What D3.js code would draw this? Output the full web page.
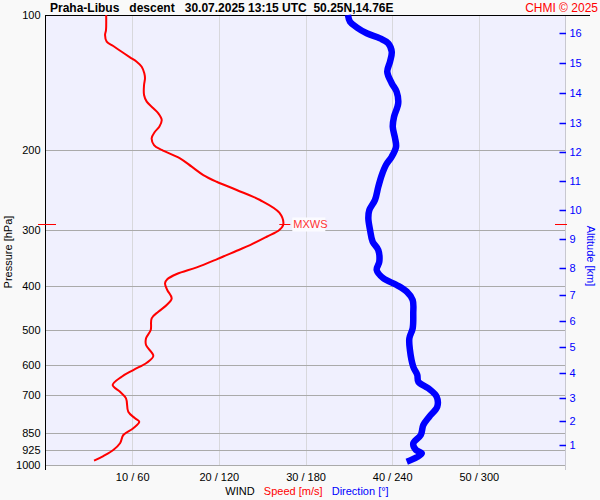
<!DOCTYPE html>
<html>
<head>
<meta charset="utf-8">
<script src="https://cdn.jsdelivr.net/npm/d3@7"></script>
<style>
  html, body { margin: 0; padding: 0; background: #f9f9f9; }
  svg { display: block; font-family: "Liberation Sans", Arial, sans-serif; }
</style>
</head>
<body>
<svg id="chart" width="600" height="500"></svg>
<script>
// ---- data ----
const titleText = "Praha-Libus   descent   30.07.2025 13:15 UTC  50.25N,14.76E";
const pressureTicks = [100, 200, 300, 400, 500, 600, 700, 850, 925, 1000];
const speedTicks = [10, 20, 30, 40, 50];
const windTickLabels = ["10 / 60", "20 / 120", "30 / 180", "40 / 240", "50 / 300"];
const altitudeKm = [1, 2, 3, 4, 5, 6, 7, 8, 9, 10, 11, 12, 13, 14, 15, 16];
const altitudePressure = [903, 798.6, 709.9, 624.5, 546.7, 478.6, 419, 365, 314.6, 271.3, 233.8, 201.6, 173.8, 149, 127.8, 109.6];

// wind speed profile [m/s] vs pressure [hPa]
const speedPressure = [100, 108.0, 110.8, 114.6, 117.2, 120.7, 124.2, 127.0, 130.3, 134.8, 138.3, 143.1, 150.6, 155.8, 161.2, 165.4, 171.1, 177.1, 181.7, 187.9, 194.5, 199.5, 208.2, 217.3, 226.8, 234.7, 244.8, 257.7, 275.0, 291.9, 300.5, 311.0, 324.5, 334.1, 349.1, 363.7, 376.3, 386.7, 394.7, 408.4, 426.2, 441.0, 456.4, 472.1, 501.2, 523.0, 541.2, 572.5, 592.5, 615.1, 636.5, 664.2, 687.4, 711.0, 761.4, 787.6, 801.4, 828.9, 857.7, 895.0, 926.1, 955.0, 978.2];
const speedValues = [7.0, 6.98, 6.87, 7.06, 7.82, 8.79, 9.75, 10.52, 11.10, 11.40, 11.48, 11.37, 11.37, 11.68, 12.44, 13.02, 13.41, 13.13, 12.63, 12.25, 12.52, 13.41, 15.52, 16.87, 18.21, 19.75, 22.06, 24.75, 26.98, 27.44, 26.98, 25.52, 23.60, 22.06, 19.75, 17.45, 15.14, 14.05, 13.79, 14.05, 14.56, 13.98, 13.02, 12.25, 12.14, 11.60, 11.60, 12.44, 11.68, 10.13, 8.79, 7.75, 8.60, 9.29, 9.55, 10.33, 10.82, 10.13, 8.98, 8.60, 7.82, 6.67, 5.60];

// wind direction profile [deg] vs pressure [hPa]
const dirPressure = [100, 103.5, 106.5, 109.8, 112.7, 115.6, 120.7, 127.0, 133.7, 141.8, 148.1, 157.1, 168.3, 177.1, 187.9, 196.2, 206.5, 215.4, 226.8, 240.8, 257.7, 271.3, 283.0, 300.5, 319.0, 332.9, 353.4, 368.7, 384.7, 398.1, 412.0, 429.9, 460.1, 496.9, 523.0, 555.2, 604.8, 631.0, 653.0, 675.5, 705.2, 742.1, 780.9, 814.7, 857.7, 895.0, 926.1, 941.9, 961.4, 983.3];
const dirValues = [209.4, 210.8, 215.4, 222.4, 231.6, 237.3, 239.7, 238.5, 236.6, 239.7, 243.1, 244.2, 241.3, 240.4, 242.0, 242.7, 239.7, 235.7, 232.8, 230.4, 228.1, 224.2, 223.5, 224.7, 226.5, 230.4, 231.1, 229.3, 233.9, 243.1, 250.1, 254.2, 254.6, 254.2, 251.9, 252.3, 254.6, 257.4, 258.1, 265.0, 270.8, 271.2, 265.7, 261.6, 259.8, 254.6, 256.5, 260.5, 257.0, 250.1];

const maxWind = { pressure: 291.9, speed: 27.44, label: "MXWS" };

// ---- layout ----
const L = 45.5, R = 565.5, T = 15, B = 465;
const svg = d3.select("#chart");

const y = d3.scaleLog().domain([100, 1000]).range([T, B]);
const xs = d3.scaleLinear().domain([0, 60]).range([L, R]);
const xd = d3.scaleLinear().domain([0, 360]).range([L, R]);

// plot background
svg.append("rect").attr("x", L).attr("y", T).attr("width", R - L).attr("height", B - T).attr("fill", "#f0f0fe");

// vertical grid
svg.append("g").selectAll("line").data(speedTicks).join("line")
  .attr("x1", d => Math.round(xs(d)) + 0.5).attr("x2", d => Math.round(xs(d)) + 0.5)
  .attr("y1", T).attr("y2", B)
  .attr("stroke", "#d8d8dc").attr("stroke-width", 1);

// horizontal grid
svg.append("g").selectAll("line").data(pressureTicks.slice(1)).join("line")
  .attr("x1", L).attr("x2", R)
  .attr("y1", d => Math.round(y(d)) + 0.5).attr("y2", d => Math.round(y(d)) + 0.5)
  .attr("stroke", "#aaaaaa").attr("stroke-width", 1);

// right axis line
svg.append("line").attr("x1", R).attr("x2", R).attr("y1", T).attr("y2", 470)
  .attr("stroke", "#c8c8d0").attr("stroke-width", 1);

// left axis line and top line
svg.append("line").attr("x1", L).attr("x2", L).attr("y1", T).attr("y2", 470)
  .attr("stroke", "#000").attr("stroke-width", 1);
svg.append("line").attr("x1", L).attr("x2", 590).attr("y1", T + 0.5).attr("y2", T + 0.5)
  .attr("stroke", "#000").attr("stroke-width", 1);

// left pressure axis labels
const yAxis = d3.axisLeft(y).tickValues(pressureTicks).tickFormat(d3.format("d")).tickSize(0).tickPadding(5);
const gy = svg.append("g").attr("transform", `translate(${L},0)`).call(yAxis);
gy.select(".domain").remove();
gy.selectAll("text").attr("font-size", 11).attr("fill", "#000").attr("font-family", "Liberation Sans, Arial, sans-serif");

// bottom wind axis labels
const xAxis = d3.axisBottom(xs).tickValues(speedTicks).tickFormat((d, i) => windTickLabels[i]).tickSize(0).tickPadding(8);
const gx = svg.append("g").attr("transform", `translate(0,${B})`).call(xAxis);
gx.select(".domain").remove();
gx.selectAll("text").attr("font-size", 11).attr("fill", "#000").attr("font-family", "Liberation Sans, Arial, sans-serif");

// right altitude axis
const gAlt = svg.append("g");
gAlt.selectAll("line").data(altitudeKm).join("line")
  .attr("x1", R - 6).attr("x2", R + 0.5)
  .attr("y1", (d, i) => Math.round(y(altitudePressure[i])) + 0.5)
  .attr("y2", (d, i) => Math.round(y(altitudePressure[i])) + 0.5)
  .attr("stroke", "#0000ff").attr("stroke-width", 1.5);
gAlt.selectAll("text").data(altitudeKm).join("text")
  .attr("x", R + 4).attr("y", (d, i) => y(altitudePressure[i]))
  .attr("dy", "0.35em").attr("font-size", 11).attr("fill", "#0000ff")
  .text(d => d);

// wind speed line
const lineS = d3.line().x((d, i) => xs(speedValues[i])).y(d => y(d)).curve(d3.curveCatmullRom);
svg.append("path").attr("d", lineS(speedPressure))
  .attr("fill", "none").attr("stroke", "#ff0000").attr("stroke-width", 2);

// wind direction line
const lineD = d3.line().x((d, i) => xd(dirValues[i])).y(d => y(d)).curve(d3.curveCatmullRom);
svg.append("path").attr("d", lineD(dirPressure))
  .attr("fill", "none").attr("stroke", "#0000ff").attr("stroke-width", 6.5).attr("stroke-linejoin", "round");

// max wind markers
const ym = Math.round(y(maxWind.pressure)) + 0.5;
svg.append("line").attr("x1", xs(maxWind.speed) - 4).attr("x2", xs(maxWind.speed) + 7)
  .attr("y1", ym).attr("y2", ym).attr("stroke", "#ff0000").attr("stroke-width", 1);
svg.append("rect").attr("x", xs(maxWind.speed) + 9).attr("y", ym - 7).attr("width", 33).attr("height", 14).attr("fill", "#fbfbff");
svg.append("text").attr("x", xs(maxWind.speed) + 10).attr("y", ym).attr("dy", "0.36em")
  .attr("font-size", 11).attr("fill", "#ff3333").text(maxWind.label);
svg.append("line").attr("x1", 38).attr("x2", 56).attr("y1", ym).attr("y2", ym).attr("stroke", "#ff0000").attr("stroke-width", 1);
svg.append("line").attr("x1", 555).attr("x2", 567).attr("y1", ym).attr("y2", ym).attr("stroke", "#ff0000").attr("stroke-width", 1);

// title
svg.append("text").attr("x", 50).attr("y", 12).attr("font-size", 12).attr("font-weight", "bold")
  .attr("fill", "#000").style("white-space", "pre").attr("xml:space", "preserve").text(titleText);
svg.append("text").attr("x", 598).attr("y", 12).attr("text-anchor", "end").attr("font-size", 12)
  .attr("fill", "#ff0000").text("CHMI © 2025");

// axis titles
svg.append("text").attr("transform", "translate(12,252) rotate(-90)").attr("text-anchor", "middle")
  .attr("font-size", 11).attr("fill", "#000").text("Pressure [hPa]");
svg.append("text").attr("transform", "translate(587,256) rotate(90)").attr("text-anchor", "middle")
  .attr("font-size", 11).attr("fill", "#0000ff").text("Altitude [km]");

const bt = svg.append("text").attr("x", 307).attr("y", 495).attr("text-anchor", "middle").attr("font-size", 11)
  .style("white-space", "pre").attr("xml:space", "preserve");
bt.append("tspan").attr("fill", "#000").text("WIND   ");
bt.append("tspan").attr("fill", "#ff0000").text("Speed [m/s]   ");
bt.append("tspan").attr("fill", "#0000ff").text("Direction [°]");
</script>
</body>
</html>
